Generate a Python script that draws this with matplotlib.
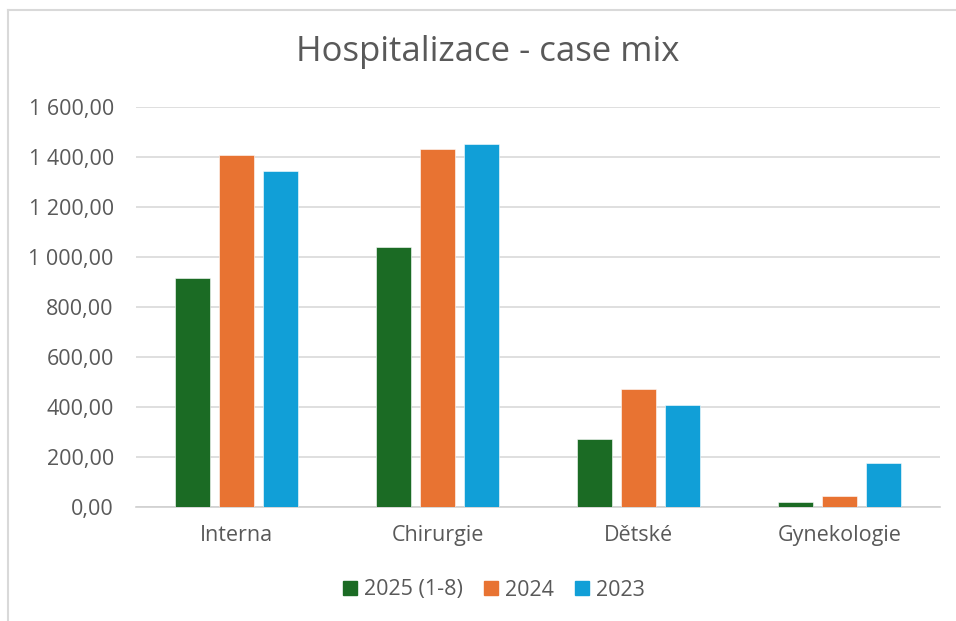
import numpy as np
import matplotlib.pyplot as plt
from matplotlib.lines import Line2D

plt.rcParams['font.family'] = ['Open Sans', 'DejaVu Sans']

categories = ["Interna", "Chirurgie", "Dětské", "Gynekologie"]
series_names = ["2025 (1-8)", "2024", "2023"]
values_2025 = [916, 1040, 272, 21]
values_2024 = [1410, 1434, 473, 44]
values_2023 = [1345, 1453, 408, 175]
colors = ["#1B6B24", "#E87332", "#119FD7"]
text_color = "#595959"

fig = plt.figure(figsize=(9.56, 6.21), dpi=100)
ax = fig.add_axes([136 / 956, 1 - 507 / 621, 804 / 956, 400 / 621])

x = np.arange(len(categories))
width = 0.175
step = 0.22
for i, (name, vals) in enumerate(zip(series_names, [values_2025, values_2024, values_2023])):
    ax.bar(x + (i - 1) * step, vals, width, color=colors[i], label=name,
           edgecolor="white", linewidth=0.4, zorder=3)

ax.set_xlim(-0.5, len(categories) - 0.5)
ax.set_ylim(0, 1600)
ticks = np.arange(0, 1601, 200)
ax.set_yticks(ticks)
ax.set_yticklabels([f"{t:,.2f}".replace(",", " ").replace(".", ",") for t in ticks])
ax.set_xticks(x)
ax.set_xticklabels(categories)
ax.grid(axis="y", color="#D9D9D9", linewidth=1.2, zorder=0)
for s in ["top", "right", "left"]:
    ax.spines[s].set_visible(False)
ax.spines["bottom"].set_color("#D0D0D0")
ax.spines["bottom"].set_linewidth(1.2)
ax.tick_params(axis="both", length=0, colors=text_color, labelsize=15.5)
ax.tick_params(axis="y", pad=16)
ax.tick_params(axis="x", pad=13)

fig.text(488 / 956, 1 - 52 / 621, "Hospitalizace - case mix", ha="center", va="center",
         fontsize=25, color=text_color)

handles = [plt.Rectangle((0, 0), 1, 1, color=c) for c in colors]
fig.legend(handles, series_names, loc="center", bbox_to_anchor=(494 / 956, 1 - 590 / 621),
           ncol=3, frameon=False, fontsize=15.5, labelcolor=text_color,
           handlelength=0.65, handleheight=0.65, handletextpad=0.3, columnspacing=1.0)

# outer chart border (partially visible in the reference)
fig.add_artist(Line2D([8 / 956, 8 / 956], [0, 1 - 10 / 621], color="#D9D9D9", lw=1.5))
fig.add_artist(Line2D([8 / 956, 1], [1 - 10 / 621, 1 - 10 / 621], color="#D9D9D9", lw=1.5))

fig.savefig("out.png", dpi=100)
